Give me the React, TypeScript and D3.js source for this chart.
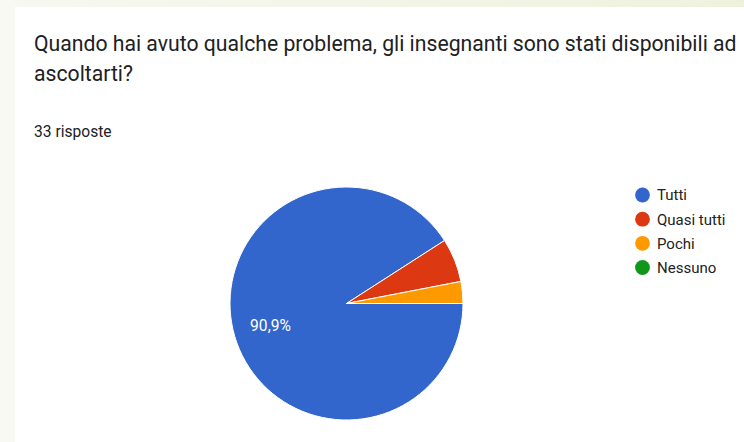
import React from "react";
import * as d3 from "d3";

const categories = ["Tutti", "Quasi tutti", "Pochi", "Nessuno"];
const counts = [30, 2, 1, 0];
const colors = ["#3366cc", "#dc3912", "#ff9900", "#109618"];
const titleLines = [
  "Quando hai avuto qualche problema, gli insegnanti sono stati disponibili ad",
  "ascoltarti?",
];
const subtitle = "33 risposte";

const W = 744;
const H = 442;

export default function App() {
  const total = d3.sum(counts);
  const cx = 346.5;
  const cy = 303.5;
  const r = 116.5;
  const pie = d3
    .pie<number>()
    .sort(null)
    .startAngle(Math.PI / 2)
    .endAngle(Math.PI / 2 + 2 * Math.PI)
    .value((d) => d);
  const arcs = pie(counts);
  const arc = d3.arc<d3.PieArcDatum<number>>().innerRadius(0).outerRadius(r);
  const labelArc = d3
    .arc<d3.PieArcDatum<number>>()
    .innerRadius(r * 0.68)
    .outerRadius(r * 0.68);
  const fmt = (v: number) =>
    (Math.round((v / total) * 1000) / 10).toFixed(1).replace(".", ",") + "%";
  const legendY = d3.scalePoint<string>().domain(categories).range([195, 267.5]);

  return (
    <div style={{ position: "fixed", left: 0, top: 0, width: W, height: H }}>
      <svg width={W} height={H} style={{ display: "block" }}>
        <defs>
          <linearGradient id="bg" x1="0" x2="1" y1="0" y2="0">
            <stop offset="0" stopColor="#f7f8f1" />
            <stop offset="1" stopColor="#eef2dd" />
          </linearGradient>
        </defs>
        <rect x={0} y={0} width={W} height={H} fill="url(#bg)" />
        <rect x={0} y={0} width={15} height={H} fill="#f8f9f3" />
        <rect x={15} y={7} width={W - 15} height={H - 7} fill="#ffffff" />
        <g fontFamily="Roboto, sans-serif" fill="#202124">
          {titleLines.map((t, i) => (
            <text key={i} x={34} y={51 + i * 30} fontSize={21.2}>
              {t}
            </text>
          ))}
          <text x={34} y={137} fontSize={15.6}>
            {subtitle}
          </text>
        </g>
        <g transform={`translate(${cx},${cy})`}>
          {arcs.map((a, i) =>
            a.value > 0 ? (
              <path
                key={i}
                d={arc(a) || ""}
                fill={colors[i]}
                stroke="#ffffff"
                strokeWidth={1}
              />
            ) : null
          )}
          {arcs.map((a, i) =>
            a.value / total > 0.5 ? (
              <text
                key={"l" + i}
                transform={`translate(${labelArc.centroid(a)})`}
                textAnchor="middle"
                dy="0.36em"
                fontFamily="Roboto, sans-serif"
                fontSize={15.6}
                fill="#ffffff"
              >
                {fmt(a.value)}
              </text>
            ) : null
          )}
        </g>
        <g fontFamily="Roboto, sans-serif" fontSize={15} fill="#222222">
          {categories.map((c, i) => (
            <g key={c} transform={`translate(0,${legendY(c)})`}>
              <circle cx={642.5} cy={0} r={7.4} fill={colors[i]} />
              <text x={657} y={0} dy="0.36em">
                {c}
              </text>
            </g>
          ))}
        </g>
      </svg>
    </div>
  );
}
